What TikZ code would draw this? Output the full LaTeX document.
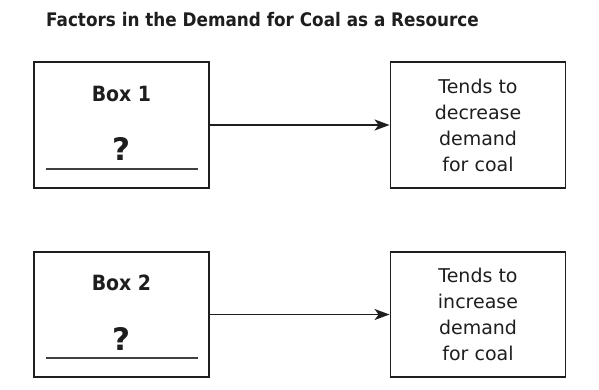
\documentclass[tikz,border=0pt]{standalone}
\usepackage{fontspec}
\setmainfont{DejaVu Sans}
\newfontfamily\condbold[FakeStretch=0.9]{DejaVu Sans Bold}
\usetikzlibrary{arrows.meta}
\definecolor{ink}{HTML}{1E1E1E}
\tikzset{
  box/.style={draw=ink, line width=1.9pt, minimum width=175pt, minimum height=126pt, inner sep=0pt},
  resbox/.style={box, align=center, font=\fontsize{19}{26}\selectfont, text=ink},
  lbl/.style={font=\condbold\fontsize{21}{24}\selectfont, text=ink, inner sep=0pt},
  qm/.style={font=\bfseries\fontsize{31}{33}\selectfont, text=ink, inner sep=0pt},
  uline/.style={draw=ink!85, line width=2pt},
  arr/.style={draw=ink, line width=1.8pt, -{Stealth[length=15pt, width=11pt, inset=4pt]}},
  ttl/.style={font=\condbold\fontsize{18.7}{22}\selectfont, text=ink, inner sep=0pt}
}
\begin{document}
\begin{tikzpicture}[x=1pt,y=-1pt]
\useasboundingbox (0,0) rectangle (599,389);
\node[ttl] (title) at (262.5,20) {Factors in the Demand for Coal as a Resource};
% row 1
\node[box] (b1) at (121.5,125) {};
\node[lbl] (b1lbl) at (121.5,94) {Box 1};
\node[qm] (b1q) at (121.5,149) {?};
\coordinate (b1l) at (46,168.5);
\coordinate (b1r) at (198,168.5);
\draw[uline] (b1l) -- (b1r);
\node[resbox] (r1) at (478,125) {Tends to\\decrease\\demand\\for coal};
\draw[arr] (b1.east) -- (r1.west);
% row 2
\node[box, minimum height=125pt] (b2) at (121.5,314.5) {};
\node[lbl] (b2lbl) at (121.5,283) {Box 2};
\node[qm] (b2q) at (121.5,339) {?};
\coordinate (b2l) at (46,357.5);
\coordinate (b2r) at (198,357.5);
\draw[uline] (b2l) -- (b2r);
\node[resbox, minimum height=125pt] (r2) at (478,314.5) {Tends to\\increase\\demand\\for coal};
\draw[arr] (b2.east) -- (r2.west);
\end{tikzpicture}
\end{document}
